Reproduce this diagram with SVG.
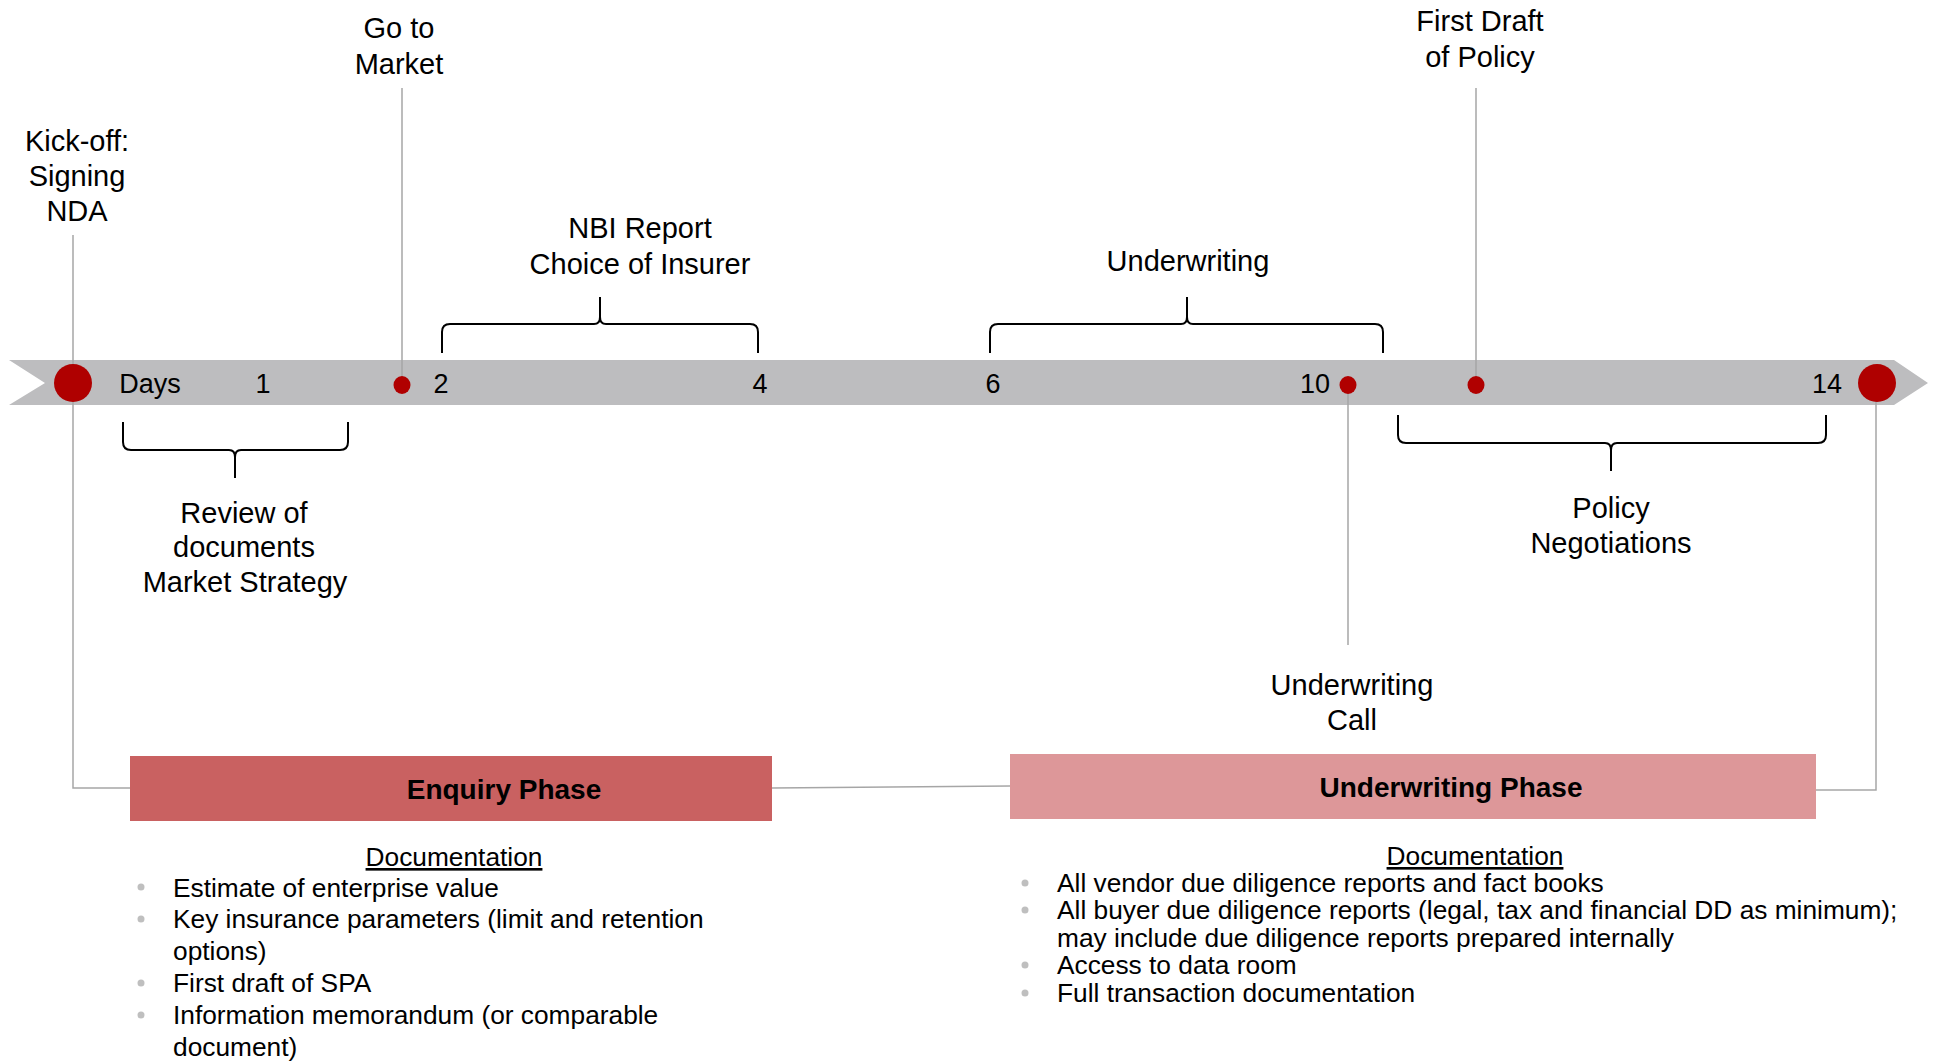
<svg xmlns="http://www.w3.org/2000/svg" width="1938" height="1061" viewBox="0 0 1938 1061">
<style>
.lbl{font-family:"Liberation Sans",Arial,sans-serif;font-size:29px;fill:#000;text-anchor:middle}
.num{font-family:"Liberation Sans",Arial,sans-serif;font-size:27px;fill:#000;text-anchor:middle}
.doc{font-family:"Liberation Sans",Arial,sans-serif;font-size:26.3px;fill:#000}
.head{font-family:"Liberation Sans",Arial,sans-serif;font-size:26.3px;fill:#000;text-anchor:middle;text-decoration:underline}
.phase{font-family:"Liberation Sans",Arial,sans-serif;font-size:28px;font-weight:bold;fill:#000;text-anchor:middle}
.conn{stroke:#a6a6a6;stroke-width:1.5;fill:none}
.brace{stroke:#000;stroke-width:2;fill:none}
.big{fill:#af0000}
.dot{fill:#b00000}
.bul{fill:#bfbfbf}
</style>
<rect width="1938" height="1061" fill="#fff"/>
<g id="timeline">
<polygon points="9,360 1894,360 1928,383 1894,405 9,405 45,383" fill="#bdbdbf"/>
<text class="num" x="150" y="393">Days</text>
<text class="num" x="263" y="393">1</text>
<text class="num" x="441" y="393">2</text>
<text class="num" x="760" y="393">4</text>
<text class="num" x="993" y="393">6</text>
<text class="num" x="1315" y="393">10</text>
<text class="num" x="1827" y="393">14</text>
</g>
<g id="connectors">
<polyline class="conn" points="73,235 73,788 130,788"/>
<line class="conn" x1="402" y1="88" x2="402" y2="385"/>
<line class="conn" x1="1348" y1="385" x2="1348" y2="645"/>
<line class="conn" x1="1476" y1="88" x2="1476" y2="385"/>
<polyline class="conn" points="1876,383 1876,790 1816,790"/>
<line class="conn" x1="772" y1="788" x2="1010" y2="786"/>
</g>
<g id="milestone-kickoff">
<circle class="big" cx="73" cy="383" r="19"/>
<text class="lbl" x="77" y="151">Kick-off:</text>
<text class="lbl" x="77" y="186">Signing</text>
<text class="lbl" x="77" y="221">NDA</text>
</g>
<g id="milestone-market">
<ellipse class="dot" cx="402" cy="385" rx="8.5" ry="9"/>
<text class="lbl" x="399" y="38">Go to</text>
<text class="lbl" x="399" y="74">Market</text>
</g>
<g id="milestone-call">
<ellipse class="dot" cx="1348" cy="385" rx="8.5" ry="9"/>
<text class="lbl" x="1352" y="695">Underwriting</text>
<text class="lbl" x="1352" y="730">Call</text>
</g>
<g id="milestone-draft">
<ellipse class="dot" cx="1476" cy="385" rx="8.5" ry="9"/>
<text class="lbl" x="1480" y="31">First Draft</text>
<text class="lbl" x="1480" y="67">of Policy</text>
</g>
<g id="milestone-end">
<circle class="big" cx="1877" cy="383" r="19"/>
</g>
<g id="span-review">
<path class="brace" d="M123,422 L123,442 Q123,450 131,450 L229,450 Q235,450 235,457 L235,478 M235,457 Q235,450 241,450 L340,450 Q348,450 348,442 L348,422"/>
<text class="lbl" x="244" y="523">Review of</text>
<text class="lbl" x="244" y="557">documents</text>
<text class="lbl" x="245" y="592">Market Strategy</text>
</g>
<g id="span-nbi">
<path class="brace" d="M442,353 L442,332 Q442,324 450,324 L594,324 Q600,324 600,317 L600,297 M600,317 Q600,324 606,324 L750,324 Q758,324 758,332 L758,353"/>
<text class="lbl" x="640" y="238">NBI Report</text>
<text class="lbl" x="640" y="274">Choice of Insurer</text>
</g>
<g id="span-underwriting">
<path class="brace" d="M990,353 L990,332 Q990,324 998,324 L1181,324 Q1187,324 1187,317 L1187,297 M1187,317 Q1187,324 1193,324 L1375,324 Q1383,324 1383,332 L1383,353"/>
<text class="lbl" x="1188" y="271">Underwriting</text>
</g>
<g id="span-policy">
<path class="brace" d="M1398,415 L1398,435 Q1398,443 1406,443 L1605,443 Q1611,443 1611,450 L1611,471 M1611,450 Q1611,443 1617,443 L1818,443 Q1826,443 1826,435 L1826,415"/>
<text class="lbl" x="1611" y="518">Policy</text>
<text class="lbl" x="1611" y="553">Negotiations</text>
</g>
<g id="phase-enquiry">
<rect x="130" y="756" width="642" height="65" fill="#c96161"/>
<text class="phase" x="504" y="799">Enquiry Phase</text>
<text class="head" x="454" y="866">Documentation</text>
<circle class="bul" cx="141" cy="887" r="3.5"/>
<text class="doc" x="173" y="897">Estimate of enterprise value</text>
<circle class="bul" cx="141" cy="919" r="3.5"/>
<text class="doc" x="173" y="928">Key insurance parameters (limit and retention</text>
<text class="doc" x="173" y="960">options)</text>
<circle class="bul" cx="141" cy="983" r="3.5"/>
<text class="doc" x="173" y="992">First draft of SPA</text>
<circle class="bul" cx="141" cy="1015" r="3.5"/>
<text class="doc" x="173" y="1024">Information memorandum (or comparable</text>
<text class="doc" x="173" y="1056">document)</text>
</g>
<g id="phase-underwriting">
<rect x="1010" y="754" width="806" height="65" fill="#dd9799"/>
<text class="phase" x="1451" y="797">Underwriting Phase</text>
<text class="head" x="1475" y="865">Documentation</text>
<circle class="bul" cx="1025" cy="883" r="3.5"/>
<text class="doc" x="1057" y="892">All vendor due diligence reports and fact books</text>
<circle class="bul" cx="1025" cy="910" r="3.5"/>
<text class="doc" x="1057" y="919">All buyer due diligence reports (legal, tax and financial DD as minimum);</text>
<text class="doc" x="1057" y="947">may include due diligence reports prepared internally</text>
<circle class="bul" cx="1025" cy="965" r="3.5"/>
<text class="doc" x="1057" y="974">Access to data room</text>
<circle class="bul" cx="1025" cy="993" r="3.5"/>
<text class="doc" x="1057" y="1002">Full transaction documentation</text>
</g>
</svg>
